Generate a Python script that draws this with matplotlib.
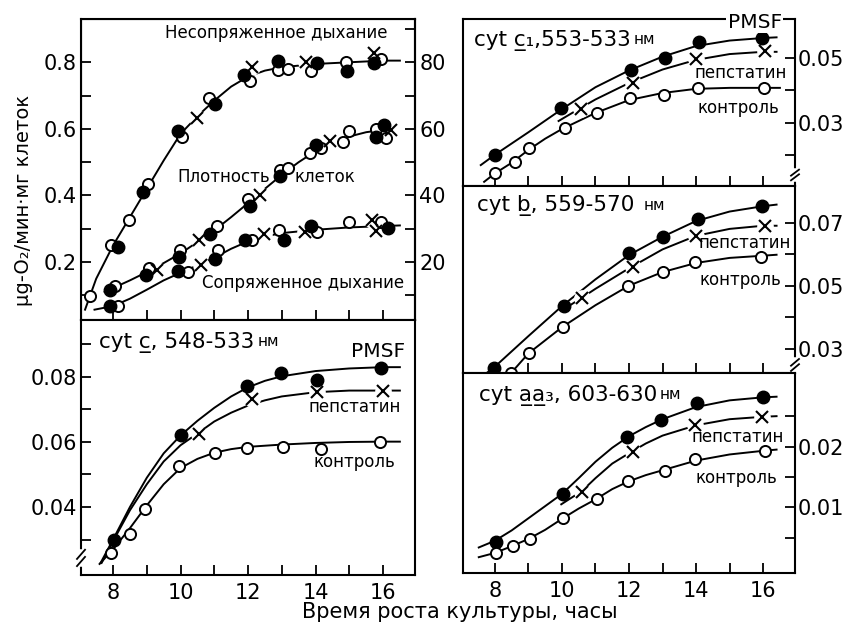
import numpy as np
import matplotlib.pyplot as plt

plt.rcParams['font.family'] = 'DejaVu Sans'

# ---------- верхняя левая панель: дыхание и плотность клеток ----------
unc_open_x = [7.31, 7.95, 8.47, 9.05, 10.04, 10.84, 12.06, 12.9, 13.17, 13.88, 14.9, 15.93]
unc_open_y = [0.099, 0.252, 0.327, 0.434, 0.575, 0.694, 0.745, 0.777, 0.779, 0.775, 0.802, 0.809]
unc_fill_x = [8.15, 8.9, 9.91, 11.02, 11.87, 12.88, 14.05, 14.93, 15.72]
unc_fill_y = [0.245, 0.41, 0.594, 0.674, 0.762, 0.804, 0.799, 0.774, 0.797]
unc_cross_x = [10.5, 12.11, 13.73, 15.74]
unc_cross_y = [0.632, 0.787, 0.8, 0.829]
unc_curve_x = [7.17, 7.5, 8.0, 8.5, 9.0, 9.5, 10.0, 10.5, 11.0, 11.5, 12.0, 12.5, 13.0, 14.0, 15.0, 16.0, 16.5]
unc_curve_y = [0.057, 0.15, 0.25, 0.335, 0.42, 0.505, 0.585, 0.638, 0.685, 0.727, 0.757, 0.775, 0.785, 0.795, 0.80, 0.805, 0.805]

den_open_x = [8.05, 9.06, 9.99, 11.09, 12.0, 12.95, 13.17, 13.83, 14.15, 14.81, 15.0, 15.79, 16.08]
den_open_y = [0.127, 0.182, 0.237, 0.307, 0.389, 0.477, 0.482, 0.527, 0.542, 0.562, 0.594, 0.599, 0.572]
den_fill_x = [7.9, 8.98, 9.96, 10.87, 12.05, 12.95, 14.0, 16.03, 15.79]
den_fill_y = [0.115, 0.162, 0.215, 0.284, 0.369, 0.457, 0.552, 0.612, 0.575]
den_cross_x = [9.3, 10.55, 12.36, 14.42, 16.23]
den_cross_y = [0.175, 0.267, 0.402, 0.565, 0.597]
den_curve_x = [7.75, 8, 8.5, 9, 9.5, 10, 10.5, 11, 11.5, 12, 12.5, 13, 13.5, 14, 14.5, 15, 15.5, 16, 16.4]
den_curve_y = [0.11, 0.122, 0.145, 0.17, 0.197, 0.226, 0.26, 0.295, 0.335, 0.377, 0.42, 0.462,
               0.5, 0.533, 0.558, 0.577, 0.59, 0.597, 0.6]

cpl_open_x = [8.15, 10.22, 11.11, 12.11, 12.93, 14.05, 15.0, 15.93]
cpl_open_y = [0.069, 0.169, 0.237, 0.265, 0.295, 0.29, 0.319, 0.319]
cpl_fill_x = [7.9, 9.93, 11.02, 11.9, 13.07, 13.88, 16.15]
cpl_fill_y = [0.067, 0.172, 0.209, 0.267, 0.267, 0.309, 0.301]
cpl_cross_x = [10.61, 12.46, 13.68, 15.66, 15.8]
cpl_cross_y = [0.19, 0.284, 0.289, 0.325, 0.292]
cpl_curve_x = [7.45, 8, 8.5, 9, 9.5, 10, 10.5, 11, 11.5, 12, 12.5, 13, 14, 15, 16, 16.5]
cpl_curve_y = [0.057, 0.068, 0.09, 0.117, 0.145, 0.168, 0.19, 0.213, 0.24, 0.262, 0.277, 0.287,
               0.297, 0.304, 0.308, 0.31]

# ---------- cyt c, 548-533 ----------
c_pmsf_x = [8.03, 10.01, 11.97, 12.99, 14.03, 15.95]
c_pmsf_y = [0.0299, 0.062, 0.0773, 0.0811, 0.0792, 0.0826]
c_pep_x = [10.56, 12.12, 14.03, 15.99]
c_pep_y = [0.0623, 0.0731, 0.0755, 0.0758]
c_ctl_x = [7.93, 8.5, 8.94, 9.94, 11.03, 11.98, 13.04, 14.15, 15.92]
c_ctl_y = [0.026, 0.0316, 0.0395, 0.0526, 0.0565, 0.0583, 0.0584, 0.0578, 0.06]
c_pmsf_cx = [7.63, 8, 8.5, 9, 9.5, 10, 10.5, 11, 11.5, 12, 12.5, 13, 14, 15, 16, 16.5]
c_pmsf_cy = [0.0228, 0.030, 0.040, 0.049, 0.0565, 0.062, 0.0665, 0.0705, 0.074, 0.0768, 0.0788,
             0.0802, 0.0818, 0.0826, 0.083, 0.083]
c_pep_cx = [7.66, 8, 8.5, 9, 9.5, 10, 10.5, 11, 11.5, 12, 12.5, 13, 14, 15, 16, 16.5]
c_pep_cy = [0.0228, 0.0295, 0.039, 0.047, 0.054, 0.059, 0.0626, 0.0663, 0.069, 0.0712, 0.0728,
            0.074, 0.0753, 0.0758, 0.0758, 0.0758]
c_ctl_cx = [7.6, 8, 8.5, 9, 9.5, 10, 10.5, 11, 11.5, 12, 13, 14, 15, 16, 16.5]
c_ctl_cy = [0.0225, 0.027, 0.0335, 0.0405, 0.047, 0.052, 0.0548, 0.0567, 0.0578, 0.0585, 0.0592,
            0.0597, 0.06, 0.0601, 0.0601]

# ---------- cyt c1, 553-533 ----------
c1_pmsf_x = [8.0, 9.97, 12.05, 13.07, 14.08, 15.97]
c1_pmsf_y = [0.0200, 0.0344, 0.0463, 0.0502, 0.0549, 0.0563]
c1_pep_x = [10.56, 12.12, 13.99, 16.07]
c1_pep_y = [0.0342, 0.0424, 0.0497, 0.0521]
c1_ctl_x = [8.0, 8.6, 9.02, 10.09, 11.05, 12.02, 13.04, 14.06, 16.02]
c1_ctl_y = [0.0142, 0.0179, 0.0221, 0.0284, 0.0329, 0.0377, 0.0386, 0.0408, 0.0407]
c1_pmsf_cx = [7.58, 8, 9, 10, 11, 12, 13, 14, 15, 16, 16.4]
c1_pmsf_cy = [0.0168, 0.020, 0.027, 0.0342, 0.041, 0.0462, 0.0505, 0.0538, 0.0555, 0.0563, 0.0565]
c1_pep_cx = [9.9, 10.5, 11, 12, 13, 14, 15, 16, 16.4]
c1_pep_cy = [0.0305, 0.0342, 0.0372, 0.0423, 0.0465, 0.0495, 0.0513, 0.052, 0.052]
c1_ctl_cx = [7.68, 8, 8.5, 9, 9.5, 10, 11, 12, 13, 14, 15, 16, 16.5]
c1_ctl_cy = [0.0116, 0.0142, 0.0175, 0.0215, 0.025, 0.028, 0.033, 0.037, 0.0392, 0.0405, 0.0408,
             0.0408, 0.0408]

# ---------- cyt b, 559-570 ----------
b_pmsf_x = [7.98, 10.07, 12.0, 13.0, 14.07, 15.96]
b_pmsf_y = [0.0239, 0.0437, 0.0602, 0.0655, 0.0711, 0.0751]
b_pep_x = [10.59, 12.12, 13.99, 16.07]
b_pep_y = [0.0461, 0.056, 0.0658, 0.0689]
b_ctl_x = [8.48, 9.02, 10.02, 11.98, 13.0, 13.97, 15.93]
b_ctl_y = [0.0223, 0.0286, 0.0368, 0.05, 0.0542, 0.0576, 0.0592]
b_pmsf_cx = [7.73, 8, 9, 10, 11, 12, 13, 14, 15, 16, 16.4]
b_pmsf_cy = [0.0221, 0.0243, 0.034, 0.0435, 0.052, 0.0597, 0.0655, 0.0705, 0.0735, 0.0752, 0.0757]
b_pep_cx = [10.2, 10.6, 11, 12, 13, 14, 15, 16, 16.4]
b_pep_cy = [0.0435, 0.0462, 0.049, 0.0555, 0.0615, 0.0658, 0.068, 0.069, 0.069]
b_ctl_cx = [8.3, 8.5, 9, 10, 11, 12, 13, 14, 15, 16, 16.4]
b_ctl_cy = [0.0205, 0.0225, 0.0285, 0.0368, 0.0438, 0.05, 0.0543, 0.0572, 0.0588, 0.0595, 0.0598]

# ---------- cyt aa3, 603-630 ----------
aa_pmsf_x = [8.03, 10.03, 11.93, 12.96, 14.03, 16.01]
aa_pmsf_y = [0.00434, 0.0122, 0.0215, 0.0243, 0.0272, 0.0281]
aa_pep_x = [10.6, 12.13, 13.97, 15.96]
aa_pep_y = [0.0126, 0.0191, 0.0236, 0.0248]
aa_ctl_x = [8.03, 8.55, 9.06, 10.03, 11.05, 11.96, 13.08, 13.97, 16.06]
aa_ctl_y = [0.00247, 0.00368, 0.00478, 0.00819, 0.0113, 0.0144, 0.0159, 0.018, 0.0193]
aa_pmsf_cx = [7.52, 8, 8.5, 9, 9.5, 10, 10.5, 11, 11.5, 12, 12.5, 13, 14, 15, 16, 16.4]
aa_pmsf_cy = [0.0034, 0.0045, 0.0062, 0.0082, 0.0102, 0.0122, 0.0148, 0.0175, 0.0198, 0.0217,
              0.0232, 0.0245, 0.0265, 0.0276, 0.0281, 0.0282]
aa_pep_cx = [9.98, 10.6, 11, 11.5, 12, 12.5, 13, 14, 15, 16, 16.4]
aa_pep_cy = [0.0105, 0.0127, 0.0148, 0.0172, 0.0189, 0.0205, 0.0218, 0.0235, 0.0245, 0.0249, 0.025]
aa_ctl_cx = [7.52, 8, 8.5, 9, 9.5, 10, 10.5, 11, 11.5, 12, 12.5, 13, 14, 15, 16, 16.4]
aa_ctl_cy = [0.0018, 0.0025, 0.0036, 0.0048, 0.0063, 0.0081, 0.0098, 0.0113, 0.013, 0.0143,
             0.0153, 0.0161, 0.0177, 0.0187, 0.0193, 0.0195]

hours = list(range(8, 17))
even_hours = [8, 10, 12, 14, 16]


def curve(ax, x, y):
    ax.plot(x, y, color='black', lw=1.4, zorder=2)


def opn(ax, x, y):
    ax.plot(x, y, 'o', mfc='white', mec='black', ms=8, mew=1.4, zorder=4)


def fill(ax, x, y):
    ax.plot(x, y, 'o', mfc='black', mec='black', ms=9, zorder=4)


def cross(ax, x, y):
    ax.plot(x, y, 'o', mfc='white', mec='none', ms=12, zorder=3)
    ax.plot(x, y, 'x', color='black', ms=8, mew=1.5, zorder=4)


def style(ax):
    for s in ax.spines.values():
        s.set_linewidth(1.5)
    ax.tick_params(which='both', direction='in', length=7, width=1.3, labelsize=15)
    ax.set_xlim(7.05, 16.95)
    ax.set_xticks(hours)


def brk(ax, xa, ya):
    ax.plot([xa, xa], [ya - 0.025, ya + 0.025], color='white', lw=4,
            transform=ax.transAxes, clip_on=False, zorder=6)
    for dy in (-0.014, 0.014):
        ax.plot([xa - 0.012, xa + 0.012], [ya + dy - 0.018, ya + dy + 0.018], color='black',
                lw=1.3, transform=ax.transAxes, clip_on=False, zorder=7)


def title(ax, x, y, s):
    t = ax.text(x, y, s, fontsize=15.5, ha='left', va='center', zorder=6)
    ax.annotate('нм', xy=(1, 0.18), xycoords=t, fontsize=11, ha='left', va='bottom',
                xytext=(2, 0), textcoords='offset points')


fig = plt.figure(figsize=(8.5, 6.25), dpi=100)

# верхняя левая
ax1 = fig.add_axes([0.0953, 0.488, 0.393, 0.4816])
style(ax1)
ax1.set_ylim(0.026, 0.93)
ax1.set_yticks([0.2, 0.4, 0.6, 0.8])
ax1.set_yticks([0.1, 0.3, 0.5, 0.7], minor=True)
ax1.set_yticklabels(['0.2', '0.4', '0.6', '0.8'])
ax1.tick_params(axis='x', labelbottom=False)
ax1.tick_params(axis='y', pad=3)
for cx, cy in [(unc_curve_x, unc_curve_y), (den_curve_x, den_curve_y), (cpl_curve_x, cpl_curve_y)]:
    curve(ax1, cx, cy)
opn(ax1, unc_open_x, unc_open_y)
fill(ax1, unc_fill_x, unc_fill_y)
cross(ax1, unc_cross_x, unc_cross_y)
opn(ax1, den_open_x, den_open_y)
fill(ax1, den_fill_x, den_fill_y)
cross(ax1, den_cross_x, den_cross_y)
opn(ax1, cpl_open_x, cpl_open_y)
fill(ax1, cpl_fill_x, cpl_fill_y)
cross(ax1, cpl_cross_x, cpl_cross_y)
ax1.text(16.14, 0.887, 'Несопряженное дыхание', fontsize=12, ha='right', va='center')
ax1.text(12.64, 0.455, 'Плотность', fontsize=12, ha='right', va='center', zorder=3)
ax1.text(13.38, 0.455, 'клеток', fontsize=12, ha='left', va='center', zorder=3)
ax1.text(16.64, 0.137, 'Сопряженное дыхание', fontsize=12, ha='right', va='center')

ax1r = ax1.twinx()
ax1r.set_ylim(2.6, 93)
ax1r.set_yticks([20, 40, 60, 80])
ax1r.set_yticks([10, 30, 50, 70, 90], minor=True)
ax1r.spines['right'].set_linewidth(1.5)
ax1r.tick_params(which='both', direction='in', length=7, width=1.3, labelsize=15, pad=3)

# нижняя левая: cyt c
ax2 = fig.add_axes([0.0953, 0.08, 0.393, 0.408])
style(ax2)
ax2.set_ylim(0.0191, 0.0975)
ax2.set_yticks([0.04, 0.06, 0.08])
ax2.set_yticks([0.03, 0.05, 0.07, 0.09], minor=True)
ax2.set_yticklabels(['0.04', '0.06', '0.08'])
ax2.set_xticks(hours)
ax2.set_xticklabels([str(h) if h in even_hours else '' for h in hours])
ax2.tick_params(axis='x', pad=6)
ax2.tick_params(axis='y', pad=3)
curve(ax2, c_pmsf_cx, c_pmsf_cy)
curve(ax2, c_pep_cx, c_pep_cy)
curve(ax2, c_ctl_cx, c_ctl_cy)
fill(ax2, c_pmsf_x, c_pmsf_y)
cross(ax2, c_pep_x, c_pep_y)
opn(ax2, c_ctl_x, c_ctl_y)
title(ax2, 7.59, 0.0906, 'cyt c\u0332, 548-533')
ax2.text(16.67, 0.0878, 'PMSF', fontsize=14.5, ha='right', va='center')
ax2.text(16.52, 0.0706, 'пепстатин', fontsize=12, ha='right', va='center')
ax2.text(16.37, 0.0537, 'контроль', fontsize=12, ha='right', va='center')
brk(ax2, 0.0, 0.067)


def right_panel(rect, ylim, major, minor):
    ax = fig.add_axes(rect)
    style(ax)
    ax.set_ylim(*ylim)
    ax.set_yticks(major)
    ax.set_yticks(minor, minor=True)
    ax.set_yticklabels([('%g' % v) for v in major])
    ax.tick_params(axis='y', which='both', left=False, right=True, labelleft=False,
                   labelright=True, pad=2)
    ax.tick_params(axis='x', labelbottom=False)
    return ax


# верхняя правая: cyt c1
ax3 = right_panel([0.5447, 0.7024, 0.3906, 0.2672], (0.0103, 0.0622), [0.03, 0.05], [0.02, 0.04])
curve(ax3, c1_pmsf_cx, c1_pmsf_cy)
curve(ax3, c1_pep_cx, c1_pep_cy)
curve(ax3, c1_ctl_cx, c1_ctl_cy)
fill(ax3, c1_pmsf_x, c1_pmsf_y)
cross(ax3, c1_pep_x, c1_pep_y)
opn(ax3, c1_ctl_x, c1_ctl_y)
title(ax3, 7.38, 0.0555, 'cyt c\u0332\u2081,553-533')
ax3.text(16.56, 0.0611, 'PMSF', fontsize=14.5, ha='right', va='center', zorder=10,
         bbox=dict(fc='white', ec='none', pad=1))
ax3.text(16.7, 0.0454, 'пепстатин', fontsize=12, ha='right', va='center')
ax3.text(16.47, 0.0346, 'контроль', fontsize=12, ha='right', va='center')
brk(ax3, 1.0, 0.066)

# средняя правая: cyt b
ax4 = right_panel([0.5447, 0.4032, 0.3906, 0.2992], (0.0223, 0.0816), [0.03, 0.05, 0.07],
                  [0.04, 0.06])
curve(ax4, b_pmsf_cx, b_pmsf_cy)
curve(ax4, b_pep_cx, b_pep_cy)
curve(ax4, b_ctl_cx, b_ctl_cy)
fill(ax4, b_pmsf_x, b_pmsf_y)
cross(ax4, b_pep_x, b_pep_y)
opn(ax4, b_ctl_x, b_ctl_y)
title(ax4, 7.47, 0.0753, 'cyt b\u0332, 559-570 ')
ax4.text(16.83, 0.0636, 'пепстатин', fontsize=12, ha='right', va='center')
ax4.text(16.53, 0.0518, 'контроль', fontsize=12, ha='right', va='center')
brk(ax4, 1.0, 0.043)

# нижняя правая: cyt aa3
ax5 = right_panel([0.5447, 0.0832, 0.3906, 0.32], (-0.0008, 0.0321), [0.01, 0.02],
                  [0.005, 0.015, 0.025])
ax5.set_xticklabels([str(h) if h in even_hours else '' for h in hours])
ax5.tick_params(axis='x', labelbottom=True, pad=6)
curve(ax5, aa_pmsf_cx, aa_pmsf_cy)
curve(ax5, aa_pep_cx, aa_pep_cy)
curve(ax5, aa_ctl_cx, aa_ctl_cy)
fill(ax5, aa_pmsf_x, aa_pmsf_y)
cross(ax5, aa_pep_x, aa_pep_y)
opn(ax5, aa_ctl_x, aa_ctl_y)
title(ax5, 7.53, 0.0284, 'cyt a\u0332a\u0332\u2083, 603-630')
ax5.text(16.61, 0.0216, 'пепстатин', fontsize=12, ha='right', va='center')
ax5.text(16.41, 0.0149, 'контроль', fontsize=12, ha='right', va='center')

fig.text(0.028, 0.68, 'μg-O\u2082/мин·мг клеток', rotation=90, ha='center', va='center',
         fontsize=14)
fig.text(0.541, 0.021, 'Время роста культуры, часы', ha='center', va='center', fontsize=15)

fig.savefig('out.png', dpi=100)
